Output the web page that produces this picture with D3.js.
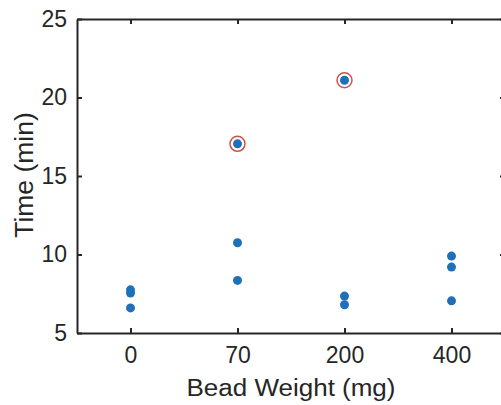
<!DOCTYPE html>
<html>
<head>
<meta charset="utf-8">
<script src="https://cdn.jsdelivr.net/npm/d3@7"></script>
<style>
  body { margin: 0; background: #fff; }
  svg { display: block; font-family: "Liberation Sans", Arial, sans-serif; }
</style>
</head>
<body>
<div id="chart"></div>
<script>
// categories along the x axis
const weights = ["0", "70", "200", "400"];
// measured times per category (min)
const times0 = [7.75, 7.55, 6.6];
const times70 = [17.05, 10.75, 8.35];
const times200 = [21.1, 7.35, 6.8];
const times400 = [9.9, 9.2, 7.05];
// highlighted outliers: [category, time]
const outliers = [["70", 17.05], ["200", 21.1]];
const yTicks = [5, 10, 15, 20, 25];

const width = 501, height = 405;
const margin = { left: 77, top: 19, right: -4, bottom: 72 };
const innerW = width - margin.left - margin.right;
const innerH = height - margin.top - margin.bottom;

const svg = d3.select("#chart").append("svg")
    .attr("width", width)
    .attr("height", height);

const g = svg.append("g")
    .attr("transform", `translate(${margin.left},${margin.top})`);

// category index scale
const x = d3.scaleLinear().domain([0.5, 4.5]).range([0, innerW]);
const y = d3.scaleLinear().domain([5, 25]).range([innerH, 0]);

const axisColor = "#262626";

// 坐标轴（刻度朝内）
const xBottom = d3.axisBottom(x).tickValues([1, 2, 3, 4])
    .tickFormat(d => weights[d - 1]).tickSizeInner(-5).tickSizeOuter(0).tickPadding(14);
const xTop = d3.axisTop(x).tickValues([1, 2, 3, 4])
    .tickFormat("").tickSizeInner(-5).tickSizeOuter(0);
const yLeft = d3.axisLeft(y).tickValues(yTicks)
    .tickSizeInner(-5).tickSizeOuter(0).tickPadding(10);
const yRight = d3.axisRight(y).tickValues(yTicks)
    .tickFormat("").tickSizeInner(-5).tickSizeOuter(0);

function style(sel) {
    sel.select(".domain").attr("stroke", axisColor).attr("stroke-width", 2);
    sel.selectAll(".tick line").attr("stroke", axisColor).attr("stroke-width", 2);
    sel.selectAll(".tick text").attr("fill", axisColor)
        .style("font-size", "23px").style("font-family", "Liberation Sans, Arial, sans-serif");
}

g.append("g").attr("transform", `translate(0,${innerH})`).call(xBottom).call(style);
g.append("g").call(xTop).call(style);
g.append("g").call(yLeft).call(style);
g.append("g").attr("transform", `translate(${innerW},0)`).call(yRight).call(style);

// points
const series = [times0, times70, times200, times400];
const points = [];
series.forEach((vals, i) => vals.forEach(v => points.push({ cat: i + 1, v })));

g.selectAll("circle.dot")
    .data(points)
    .join("circle")
    .attr("class", "dot")
    .attr("cx", d => x(d.cat))
    .attr("cy", d => y(d.v))
    .attr("r", 4.5)
    .attr("fill", "#1f70b8");

g.selectAll("circle.outlier")
    .data(outliers)
    .join("circle")
    .attr("class", "outlier")
    .attr("cx", d => x(weights.indexOf(d[0]) + 1))
    .attr("cy", d => y(d[1]))
    .attr("r", 7.5)
    .attr("fill", "none")
    .attr("stroke", "#d0504a")
    .attr("stroke-width", 1.5);

// 轴标题
svg.append("text")
    .attr("transform", `translate(${margin.left + x(2.5)},396) scale(1,0.92)`)
    .attr("text-anchor", "middle")
    .attr("fill", axisColor)
    .style("font-size", "26px")
    .text("Bead Weight (mg)");

svg.append("text")
    .attr("transform", `translate(33,175) rotate(-90)`)
    .attr("text-anchor", "middle")
    .attr("fill", axisColor)
    .style("font-size", "26.5px")
    .text("Time (min)");
</script>
</body>
</html>
